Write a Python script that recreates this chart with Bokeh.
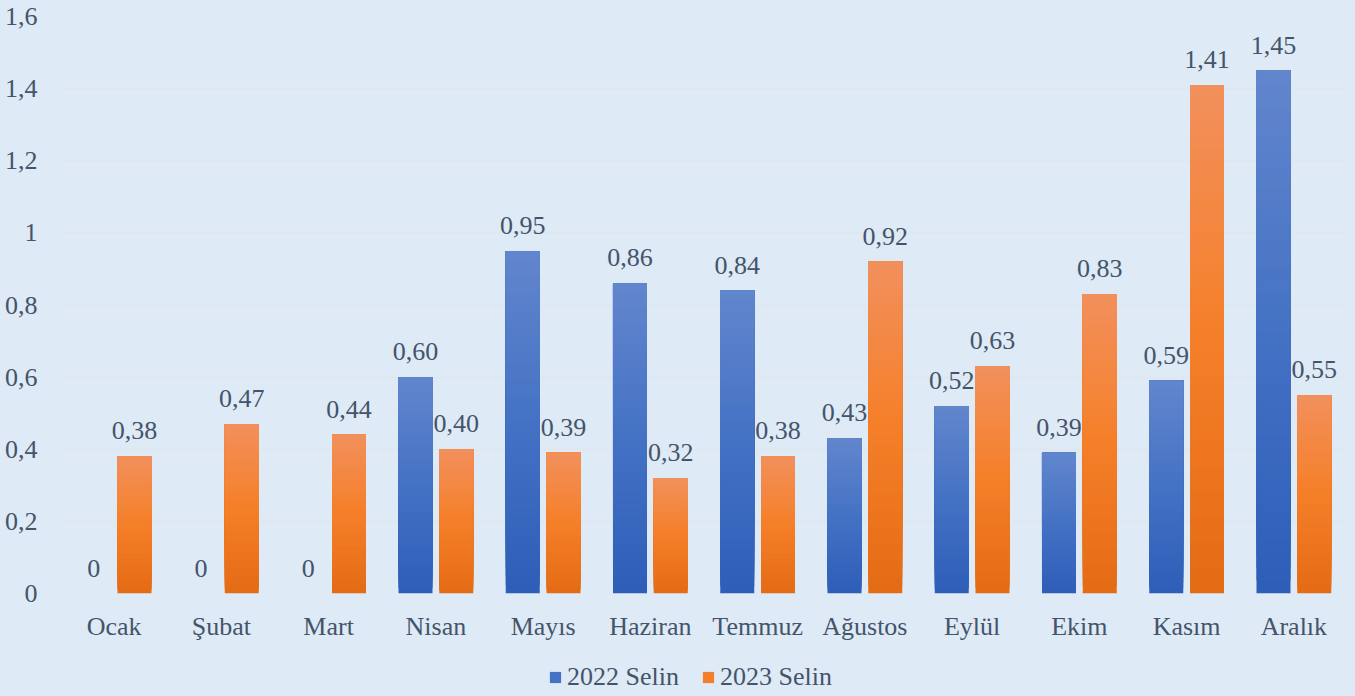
from bokeh.plotting import figure
from bokeh.layouts import column
from bokeh.models import (ColumnDataSource, FactorRange, Range1d, FixedTicker,
                          LabelSet, Legend, LegendItem)
from bokeh.transform import dodge
from bokeh.embed import file_html
from bokeh.resources import INLINE

months = ["Ocak", "Şubat", "Mart", "Nisan", "Mayıs", "Haziran", "Temmuz",
          "Ağustos", "Eylül", "Ekim", "Kasım", "Aralık"]
selin_2022 = [0, 0, 0, 0.60, 0.95, 0.86, 0.84, 0.43, 0.52, 0.39, 0.59, 1.45]
selin_2023 = [0.38, 0.47, 0.44, 0.40, 0.39, 0.32, 0.38, 0.92, 0.63, 0.83, 1.41, 0.55]
series_names = ["2022 Selin", "2023 Selin"]
y_ticks = [0, 0.2, 0.4, 0.6, 0.8, 1.0, 1.2, 1.4, 1.6]
y_tick_labels = ["0", "0,2", "0,4", "0,6", "0,8", "1", "1,2", "1,4", "1,6"]

BG = "#deeaf6"
TXT = "#44546a"
FONT = "Liberation Serif"
FS = "26px"
W = 1355
H_MAIN = 650
H_LEG = 46

# gradient stops (top, middle, bottom)
blue_stops = ["#6286cd", "#4472c4", "#2e5db9"]
orange_stops = ["#f2905c", "#f57f28", "#e46b15"]


def hex2rgb(h):
    h = h.lstrip("#")
    return tuple(int(h[i:i + 2], 16) for i in (0, 2, 4))


def grad_color(stops, t):
    # t: 0 at top, 1 at bottom
    if t <= 0.5:
        a, b, f = hex2rgb(stops[0]), hex2rgb(stops[1]), t / 0.5
    else:
        a, b, f = hex2rgb(stops[1]), hex2rgb(stops[2]), (t - 0.5) / 0.5
    c = [round(a[i] + (b[i] - a[i]) * f) for i in range(3)]
    return "#%02x%02x%02x" % tuple(c)


def sliced(values, stops, n=40):
    # each slice runs from its own bottom to the bar top; later slices overdraw
    xs, bots, tops, cols = [], [], [], []
    for k in range(n):
        for m, v in zip(months, values):
            if v <= 0:
                continue
            xs.append(m)
            bots.append(v * k / n)
            tops.append(v)
            cols.append(grad_color(stops, 1 - (k + 0.5) / n))
    return ColumnDataSource(dict(x=xs, bottom=bots, top=tops, color=cols))


def fmt(v):
    return "0" if v == 0 else ("%.2f" % v).replace(".", ",")


p = figure(x_range=FactorRange(*months, range_padding=0),
           y_range=Range1d(0, 1.6),
           width=W, height=H_MAIN, output_backend="svg", toolbar_location=None,
           min_border_left=60, min_border_right=8, min_border_top=16,
           min_border_bottom=H_MAIN - 593)
p.background_fill_color = BG
p.border_fill_color = BG
p.outline_line_color = None

off = 0.19
bw = 0.317
src_a = sliced(selin_2022, blue_stops)
src_b = sliced(selin_2023, orange_stops)
p.vbar(x=dodge("x", -off, range=p.x_range), bottom="bottom", top="top", width=bw,
       source=src_a, fill_color="color", line_color=None)
p.vbar(x=dodge("x", off, range=p.x_range), bottom="bottom", top="top", width=bw,
       source=src_b, fill_color="color", line_color=None)

lab = ColumnDataSource(dict(
    x=months, a=selin_2022, b=selin_2023,
    ta=[fmt(v) for v in selin_2022], tb=[fmt(v) for v in selin_2023]))
for ycol, tcol, d in (("a", "ta", -off), ("b", "tb", off)):
    ls = LabelSet(x=dodge("x", d, range=p.x_range), y=ycol, text=tcol, source=lab,
                  text_align="center", text_baseline="alphabetic", y_offset=17,
                  text_font=FONT, text_font_size=FS, text_color=TXT)
    p.add_layout(ls)

# axes
p.yaxis.ticker = FixedTicker(ticks=y_ticks)
p.yaxis.major_label_overrides = {t: l for t, l in zip(y_ticks, y_tick_labels)}
for ax in (p.xaxis[0], p.yaxis[0]):
    ax.axis_line_color = None
    ax.major_tick_line_color = None
    ax.minor_tick_line_color = None
    ax.major_tick_out = 0
    ax.major_tick_in = 0
    ax.minor_tick_out = 0
    ax.major_label_text_font = FONT
    ax.major_label_text_font_size = FS
    ax.major_label_text_color = TXT
p.yaxis.major_label_standoff = 23
p.xaxis.major_label_standoff = 18
p.xgrid.grid_line_color = None
p.ygrid.grid_line_color = "#e2e5ea"
p.ygrid.grid_line_width = 1.5

# legend strip
q = figure(width=W, height=H_LEG, output_backend="svg", toolbar_location=None,
           x_axis_type=None, y_axis_type=None, min_border=0,
           x_range=(0, 1), y_range=(0, 1))
q.background_fill_color = BG
q.border_fill_color = BG
q.outline_line_color = None
q.grid.grid_line_color = None
# swatch renderers kept outside the visible range; only their legend glyphs show
r1 = q.vbar(x=[5], bottom=[5], top=[6], width=0.1, fill_color=blue_stops[1], line_color=None)
r2 = q.vbar(x=[5], bottom=[5], top=[6], width=0.1, fill_color=orange_stops[1], line_color=None)
legend = Legend(items=[LegendItem(label=series_names[0], renderers=[r1]),
                       LegendItem(label=series_names[1], renderers=[r2])],
                orientation="horizontal", location=(488, 4),
                glyph_width=14, glyph_height=14, label_standoff=5, spacing=22,
                padding=0, margin=0, border_line_color=None,
                background_fill_alpha=0, label_text_font=FONT,
                label_text_font_size=FS, label_text_color=TXT)
q.add_layout(legend, "center")

page = column(p, q, spacing=0)
html = file_html(page, INLINE)
html = html.replace("<head>", "<head><style>body{background:%s;}</style>" % BG, 1)
open("out.html", "w").write(html)
